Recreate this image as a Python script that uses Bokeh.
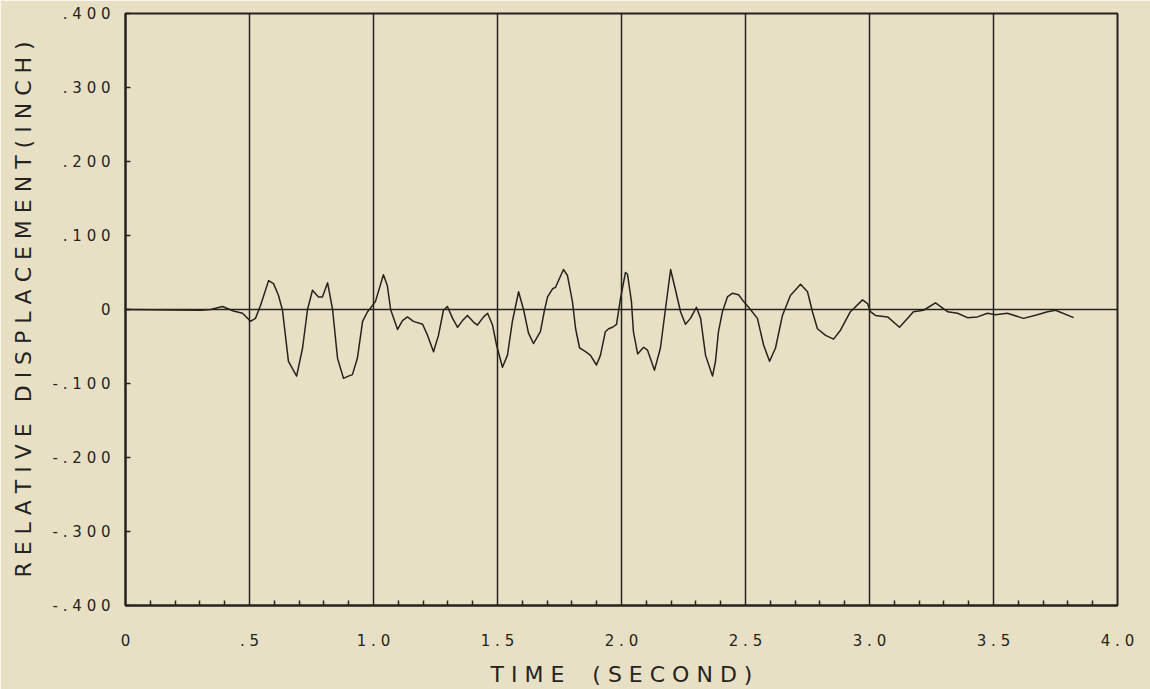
from bokeh.plotting import figure
from bokeh.models import Range1d, FixedTicker, Span
from bokeh.embed import file_html
from bokeh.resources import INLINE

# ---- data ----
time_s = [0.000, 0.302, 0.343, 0.391, 0.435, 0.472, 0.504, 0.524, 0.544, 0.577,
          0.597, 0.617, 0.633, 0.657, 0.690, 0.714, 0.734, 0.754, 0.778, 0.794,
          0.815, 0.835, 0.855, 0.879, 0.899, 0.915, 0.935, 0.956, 0.976, 0.988,
          1.008, 1.040, 1.056, 1.069, 1.097, 1.117, 1.137, 1.161, 1.198, 1.218,
          1.242, 1.262, 1.282, 1.298, 1.319, 1.339, 1.359, 1.379, 1.403, 1.419,
          1.444, 1.460, 1.480, 1.496, 1.520, 1.540, 1.560, 1.585, 1.605, 1.625,
          1.645, 1.673, 1.690, 1.702, 1.722, 1.734, 1.766, 1.782, 1.802, 1.815,
          1.831, 1.855, 1.875, 1.899, 1.915, 1.935, 1.948, 1.964, 1.980, 1.996,
          2.016, 2.024, 2.040, 2.048, 2.065, 2.089, 2.105, 2.133, 2.157, 2.177,
          2.198, 2.218, 2.238, 2.258, 2.278, 2.302, 2.319, 2.339, 2.367, 2.379,
          2.391, 2.407, 2.427, 2.448, 2.472, 2.492, 2.520, 2.548, 2.573, 2.597,
          2.621, 2.649, 2.681, 2.722, 2.750, 2.770, 2.790, 2.823, 2.855, 2.883,
          2.923, 2.972, 2.992, 3.004, 3.024, 3.073, 3.121, 3.153, 3.177, 3.218,
          3.266, 3.315, 3.355, 3.395, 3.435, 3.476, 3.508, 3.556, 3.621, 3.677,
          3.718, 3.750, 3.823]
displacement = [0.000, -0.001, 0.000, 0.004, -0.002, -0.005, -0.016, -0.012, 0.005, 0.039,
                0.035, 0.019, -0.001, -0.070, -0.090, -0.052, 0.000, 0.026, 0.017, 0.017,
                0.036, 0.000, -0.066, -0.093, -0.090, -0.088, -0.066, -0.016, -0.003, 0.002,
                0.011, 0.047, 0.032, 0.000, -0.027, -0.015, -0.010, -0.016, -0.020, -0.035,
                -0.057, -0.035, -0.001, 0.004, -0.012, -0.024, -0.015, -0.008, -0.017, -0.021,
                -0.010, -0.005, -0.021, -0.048, -0.078, -0.062, -0.016, 0.024, 0.000, -0.032,
                -0.046, -0.030, 0.000, 0.017, 0.028, 0.030, 0.054, 0.046, 0.011, -0.026,
                -0.052, -0.057, -0.062, -0.075, -0.062, -0.030, -0.026, -0.024, -0.020, 0.015,
                0.050, 0.048, 0.011, -0.030, -0.060, -0.051, -0.055, -0.082, -0.052, 0.000,
                0.054, 0.026, -0.003, -0.020, -0.012, 0.003, -0.012, -0.062, -0.090, -0.070,
                -0.030, -0.003, 0.017, 0.022, 0.020, 0.011, 0.000, -0.012, -0.048, -0.070,
                -0.052, -0.008, 0.019, 0.034, 0.024, -0.003, -0.026, -0.035, -0.040, -0.028,
                -0.003, 0.013, 0.008, -0.003, -0.008, -0.010, -0.024, -0.012, -0.003, -0.001,
                0.009, -0.003, -0.005, -0.011, -0.010, -0.005, -0.007, -0.005, -0.012, -0.007,
                -0.003, -0.001, -0.011]

x_ticks = [0.0, 0.5, 1.0, 1.5, 2.0, 2.5, 3.0, 3.5, 4.0]
x_tick_labels = ["0", ". 5", "1 . 0", "1 . 5", "2 . 0", "2 . 5", "3 . 0", "3 . 5", "4 . 0"]
x_minor = [0.1, 0.2, 0.3, 0.4, 0.6, 0.7, 0.8, 0.9, 1.1, 1.2, 1.3, 1.4,
           1.6, 1.7, 1.8, 1.9, 2.1, 2.2, 2.3, 2.4, 2.6, 2.7, 2.8, 2.9,
           3.1, 3.2, 3.3, 3.4, 3.6, 3.7, 3.8, 3.9]
y_ticks = [-0.4, -0.3, -0.2, -0.1, 0.0, 0.1, 0.2, 0.3, 0.4]
y_tick_labels = ["- . 4 0 0", "- . 3 0 0", "- . 2 0 0", "- . 1 0 0", "0",
                 ". 1 0 0", ". 2 0 0", ". 3 0 0", ". 4 0 0"]
grid_x = [0.5, 1.0, 1.5, 2.0, 2.5, 3.0, 3.5]
NB = "\u00a0"
x_title = "T I M E" + NB * 4 + "( S E C O N D )"
y_title = "R E L A T I V E" + NB * 3 + "D I S P L A C E M E N T ( I N C H )"

BG = "#e8e0c4"
INK = "#26231f"
FONT = "DejaVu Sans"

p = figure(width=1150, height=689, output_backend="svg", toolbar_location=None,
           x_range=Range1d(0, 4), y_range=Range1d(-0.4, 0.4),
           min_border_left=125, min_border_right=33, min_border_top=13,
           min_border_bottom=80)
p.background_fill_color = BG
p.border_fill_color = BG
p.outline_line_color = INK
p.outline_line_width = 2

p.ygrid.visible = False
p.xgrid.ticker = FixedTicker(ticks=grid_x)
p.xgrid.grid_line_color = INK
p.xgrid.grid_line_width = 1.5
p.xgrid.grid_line_alpha = 1.0

p.add_layout(Span(location=0, dimension="width", line_color=INK, line_width=1.3))

p.line(time_s, displacement, line_color=INK, line_width=1.5, line_join="round")

xa = p.xaxis[0]
xa.ticker = FixedTicker(ticks=x_ticks, minor_ticks=x_minor)
xa.major_label_overrides = {k: v for k, v in zip(x_ticks, x_tick_labels)}
xa.axis_line_color = INK
xa.axis_line_width = 2
xa.major_tick_in = 0
xa.major_tick_out = 0
xa.minor_tick_in = 5
xa.minor_tick_out = 0
xa.minor_tick_line_color = INK
xa.minor_tick_line_width = 1.5
xa.major_label_standoff = 26
xa.major_label_text_font = FONT
xa.major_label_text_font_size = "15px"
xa.major_label_text_color = INK
xa.axis_label = x_title
xa.axis_label_text_font = FONT
xa.axis_label_text_font_style = "normal"
xa.axis_label_text_font_size = "22px"
xa.axis_label_text_color = INK
xa.axis_label_standoff = 9

ya = p.yaxis[0]
ya.ticker = FixedTicker(ticks=y_ticks)
ya.major_label_overrides = {k: v for k, v in zip(y_ticks, y_tick_labels)}
ya.axis_line_color = INK
ya.axis_line_width = 2
ya.major_tick_in = 5
ya.major_tick_out = 0
ya.major_tick_line_color = INK
ya.major_tick_line_width = 1.5
ya.minor_tick_in = 0
ya.minor_tick_out = 0
ya.major_label_standoff = 15
ya.major_label_text_font = FONT
ya.major_label_text_font_size = "15px"
ya.major_label_text_color = INK
ya.axis_label = y_title
ya.axis_label_text_font = FONT
ya.axis_label_text_font_style = "normal"
ya.axis_label_text_font_size = "22px"
ya.axis_label_text_color = INK
ya.axis_label_standoff = 14

open("out.html", "w").write(file_html(p, INLINE))
